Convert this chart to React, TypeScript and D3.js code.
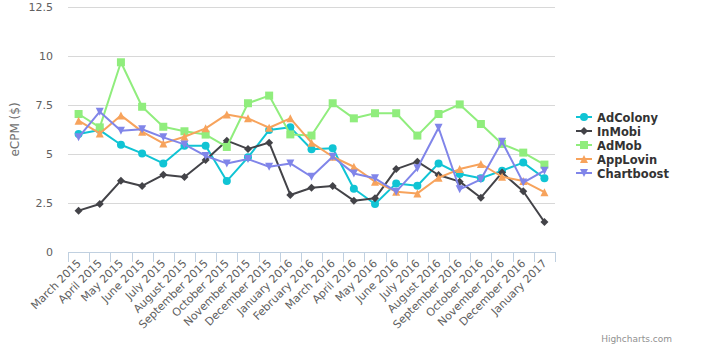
import React from "react";
import * as d3 from "d3";

const categories = [
  "March 2015", "April 2015", "May 2015", "June 2015", "July 2015", "August 2015",
  "September 2015", "October 2015", "November 2015", "December 2015", "January 2016",
  "February 2016", "March 2016", "April 2016", "May 2016", "June 2016", "July 2016",
  "August 2016", "September 2016", "October 2016", "November 2016", "December 2016",
  "January 2017",
];

const adColony = [6.02, 6.22, 5.47, 5.03, 4.52, 5.42, 5.42, 3.62, 4.83, 6.22, 6.36, 5.24, 5.29, 3.23, 2.45, 3.5, 3.38, 4.52, 3.98, 3.76, 4.15, 4.56, 3.76];
const inMobi = [2.11, 2.45, 3.64, 3.37, 3.94, 3.83, 4.69, 5.68, 5.26, 5.58, 2.91, 3.28, 3.37, 2.62, 2.74, 4.23, 4.61, 3.93, 3.59, 2.77, 4.05, 3.1, 1.53];
const adMob = [7.04, 6.36, 9.68, 7.41, 6.39, 6.16, 5.99, 5.36, 7.59, 7.98, 6.0, 5.94, 7.59, 6.82, 7.08, 7.08, 5.94, 7.04, 7.53, 6.53, 5.51, 5.07, 4.46];
const appLovin = [6.7, 6.05, 6.97, 6.14, 5.54, 5.88, 6.31, 7.02, 6.82, 6.34, 6.82, 5.58, 4.86, 4.35, 3.59, 3.08, 2.99, 3.79, 4.23, 4.49, 3.84, 3.62, 3.05];
const chartboost = [5.85, 7.16, 6.19, 6.26, 5.85, 5.49, 4.9, 4.52, 4.74, 4.35, 4.52, 3.84, 4.86, 4.01, 3.76, 3.08, 4.27, 6.34, 3.2, 3.71, 5.63, 3.54, 4.15];

const yTicks = [0, 2.5, 5, 7.5, 10, 12.5];

type SeriesDef = { name: string; data: number[]; color: string; symbol: string };

const series: SeriesDef[] = [
  { name: "AdColony", data: adColony, color: "#10c4d4", symbol: "circle" },
  { name: "InMobi", data: inMobi, color: "#434348", symbol: "diamond" },
  { name: "AdMob", data: adMob, color: "#90ed7d", symbol: "square" },
  { name: "AppLovin", data: appLovin, color: "#f7a35c", symbol: "triangle" },
  { name: "Chartboost", data: chartboost, color: "#8085e9", symbol: "triangle-down" },
];

const FONT = '"Lucida Grande", "DejaVu Sans", Arial, sans-serif';

function Marker({ x, y, symbol, color }: { x: number; y: number; symbol: string; color: string }) {
  const r = 4;
  if (symbol === "circle") return <circle cx={x} cy={y} r={r} fill={color} />;
  if (symbol === "square") return <rect x={x - r} y={y - r} width={2 * r} height={2 * r} fill={color} />;
  if (symbol === "diamond")
    return <path d={`M${x},${y - r}L${x + r},${y}L${x},${y + r}L${x - r},${y}Z`} fill={color} />;
  if (symbol === "triangle")
    return <path d={`M${x},${y - r}L${x + r},${y + r}L${x - r},${y + r}Z`} fill={color} />;
  return <path d={`M${x - r},${y - r}L${x + r},${y - r}L${x},${y + r}Z`} fill={color} />;
}

export default function App() {
  const width = 722;
  const height = 357;
  const left = 68;
  const right = 555;
  const top = 7;
  const bottom = 252;

  const x = d3.scaleBand<string>().domain(categories).range([left, right]);
  const y = d3.scaleLinear().domain([0, 12.5]).range([bottom, top]);
  const cx = (c: string) => (x(c) ?? 0) + x.bandwidth() / 2;

  const line = d3
    .line<number>()
    .x((_, i) => cx(categories[i]))
    .y((d) => y(d));

  const boundaries = categories.map((c) => x(c) ?? 0).concat([right]);

  return (
    <svg width={width} height={height} style={{ position: "absolute", left: 0, top: 0, fontFamily: FONT }}>
      <rect x={0} y={0} width={width} height={height} fill="#ffffff" />
      {yTicks.map((t) =>
        t === 0 ? null : (
          <line key={"g" + t} x1={left} x2={right} y1={Math.round(y(t)) + 0.5} y2={Math.round(y(t)) + 0.5} stroke="#D8D8D8" strokeWidth={1} />
        )
      )}
      {yTicks.map((t) => (
        <text key={"yl" + t} x={53} y={y(t) + 4} textAnchor="end" fontSize={11} fill="#606060">
          {d3.format("")(t)}
        </text>
      ))}
      <text
        transform={`translate(19,${(top + bottom) / 2}) rotate(-90)`}
        textAnchor="middle"
        fontSize={12}
        fill="#707070"
      >
        eCPM ($)
      </text>
      <line x1={left} x2={right} y1={bottom + 0.5} y2={bottom + 0.5} stroke="#C0D0E0" strokeWidth={1} />
      {boundaries.map((b, i) => (
        <line key={"t" + i} x1={Math.round(b) + 0.5} x2={Math.round(b) + 0.5} y1={bottom} y2={bottom + 10} stroke="#C0D0E0" strokeWidth={1} />
      ))}
      {categories.map((c) => (
        <text
          key={"xl" + c}
          transform={`translate(${cx(c) + 3},${bottom + 12}) rotate(-45)`}
          textAnchor="end"
          fontSize={11}
          fill="#606060"
        >
          {c}
        </text>
      ))}
      {series.map((s) => (
        <g key={s.name}>
          <path d={line(s.data) ?? ""} fill="none" stroke={s.color} strokeWidth={2} strokeLinejoin="round" strokeLinecap="round" />
          {s.data.map((v, i) => (
            <Marker key={i} x={cx(categories[i])} y={y(v)} symbol={s.symbol} color={s.color} />
          ))}
        </g>
      ))}
      {series.map((s, i) => {
        const ly = 117 + i * 14;
        return (
          <g key={"lg" + s.name}>
            <line x1={576} x2={592} y1={ly} y2={ly} stroke={s.color} strokeWidth={2} />
            <Marker x={584} y={ly} symbol={s.symbol} color={s.color} />
            <text x={597} y={ly + 4.5} fontSize={11.5} fontWeight="bold" fill="#333333">
              {s.name}
            </text>
          </g>
        );
      })}
      <text x={672} y={342} textAnchor="end" fontSize={9} fill="#909090">
        Highcharts.com
      </text>
    </svg>
  );
}
